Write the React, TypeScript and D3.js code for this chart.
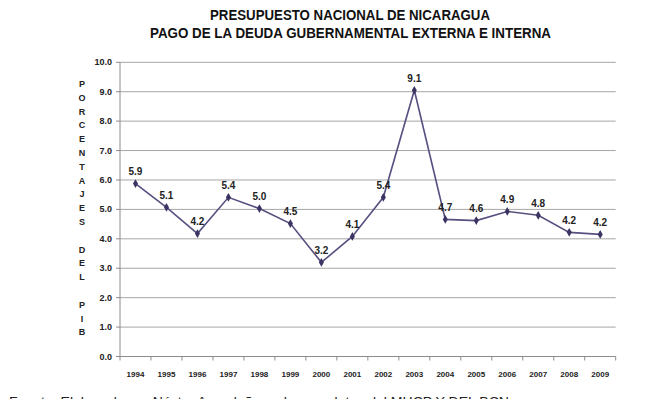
import React from "react";
import * as d3 from "d3";

const years = ["1994","1995","1996","1997","1998","1999","2000","2001","2002","2003","2004","2005","2006","2007","2008","2009"];
const values = [5.88, 5.07, 4.18, 5.41, 5.03, 4.52, 3.2, 4.08, 5.41, 9.05, 4.66, 4.62, 4.93, 4.8, 4.22, 4.15];
const labels = ["5.9","5.1","4.2","5.4","5.0","4.5","3.2","4.1","5.4","9.1","4.7","4.6","4.9","4.8","4.2","4.2"];
const yTicks = [0,1,2,3,4,5,6,7,8,9,10];
const yTitle = ["P","O","R","C","E","N","T","A","J","E","S","","D","E","L","","P","I","B"];
const titleLines = ["PRESUPUESTO NACIONAL DE NICARAGUA", "PAGO DE LA DEUDA GUBERNAMENTAL EXTERNA E INTERNA"];
const footer = "Fuente: Elaborado por Néstor Avendaño en base a datos del MHCP Y DEL BCN";

const W = 668, H = 399;
const left = 120, right = 615.7, top = 62.3, bottom = 356.5;
const font = "'Liberation Sans Narrow', 'Arial Narrow', 'Liberation Sans', Arial, sans-serif";

export default function App() {
  const x = d3.scaleBand<string>().domain(years).range([left, right]).padding(0);
  const y = d3.scaleLinear().domain([0, 10]).range([bottom, top]);
  const cx = (d: string) => (x(d) as number) + x.bandwidth() / 2;
  const line = d3.line<number>().x((_, i) => cx(years[i])).y(v => y(v));
  const diamond = d3.symbol().type(d3.symbolDiamond).size(22)() as string;
  const lineColor = "#55507F";
  const markColor = "#3A3462";
  const bounds = [...years.map(d => x(d) as number), right];

  return (
    <svg width={W} height={H} style={{ position: "absolute", left: 0, top: 0, background: "#fff" }} fontFamily={font}>
      <rect width={W} height={H} fill="#fff" />
      <text x={350} y={20} textAnchor="middle" fontSize={14} fontWeight="bold" fill="#111"
        textLength={280} lengthAdjust="spacingAndGlyphs">{titleLines[0]}</text>
      <text x={350.5} y={38} textAnchor="middle" fontSize={14} fontWeight="bold" fill="#111"
        textLength={401} lengthAdjust="spacingAndGlyphs">{titleLines[1]}</text>

      {yTicks.map(t => (
        <g key={t}>
          {t > 0 && <line x1={left} x2={right} y1={y(t)} y2={y(t)} stroke="#A6A6A6" strokeWidth={1} />}
          <line x1={left - 4} x2={left} y1={y(t)} y2={y(t)} stroke="#8C8C8C" strokeWidth={1} />
          <text x={112} y={y(t) + 3} textAnchor="end" fontSize={9} fontWeight="bold" fill="#222">{t.toFixed(1)}</text>
        </g>
      ))}
      <line x1={left} x2={left} y1={top} y2={bottom} stroke="#8C8C8C" strokeWidth={1} />
      <line x1={left} x2={right} y1={bottom} y2={bottom} stroke="#8C8C8C" strokeWidth={1} />
      {bounds.map((b, i) => (
        <line key={i} x1={b} x2={b} y1={bottom} y2={bottom + 4} stroke="#8C8C8C" strokeWidth={1} />
      ))}
      {years.map(d => (
        <text key={d} x={cx(d)} y={377} textAnchor="middle" fontSize={8} fontWeight="bold" fill="#222">{d}</text>
      ))}

      {yTitle.map((c, i) => (
        <text key={i} x={82} y={87 + i * 13.8} textAnchor="middle" fontSize={9} fontWeight="bold" fill="#222">{c}</text>
      ))}

      <path d={line(values) as string} fill="none" stroke={lineColor} strokeWidth={1.6} />
      {values.map((v, i) => (
        <path key={i} d={diamond} transform={`translate(${cx(years[i])},${y(v)})`} fill={markColor} />
      ))}
      {values.map((v, i) => (
        <text key={i} x={cx(years[i])} y={y(v) - 8.5} textAnchor="middle" fontSize={10} fontWeight="bold" fill="#222">{labels[i]}</text>
      ))}

      <text x={9} y={406} fontSize={13} fill="#222" fontFamily="'Liberation Sans', Arial, sans-serif"
        textLength={500} lengthAdjust="spacingAndGlyphs">{footer}</text>
    </svg>
  );
}
